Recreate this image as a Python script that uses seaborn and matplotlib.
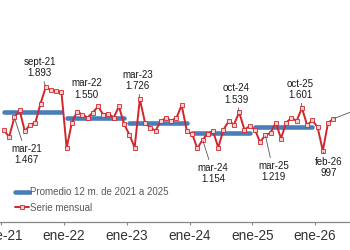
import pandas as pd
import numpy as np
import matplotlib
matplotlib.use("Agg")
import matplotlib.pyplot as plt
import seaborn as sns

# serie mensual, ene-21 a abr-26
serie_2021 = [1287, 1194, 1467, 1569, 1273, 1368, 1391, 1664, 1893, 1851, 1837, 1829]
serie_2022 = [1039, 1396, 1550, 1509, 1466, 1537, 1622, 1509, 1523, 1466, 1622, 1370]
serie_2023 = [1227, 1043, 1726, 1392, 1321, 1283, 1414, 1462, 1424, 1462, 1640, 1273]
serie_2024 = [1237, 1030, 1154, 1241, 1273, 1043, 1297, 1414, 1368, 1539, 1297, 1344]
serie_2025 = [1297, 1120, 1219, 1250, 1396, 1170, 1396, 1460, 1420, 1601, 1360, 1425]
serie_2026 = [1330, 997, 1392, 1448]

# promedio 12 meses por año
anios_prom = [2021, 2022, 2023, 2024, 2025]
promedio = [1551, 1462, 1392, 1245, 1326]

meses = ["ene", "feb", "mar", "abr", "may", "jun", "jul", "ago", "sept", "oct", "nov", "dic"]
ticks_lbl = ["ene-21", "ene-22", "ene-23", "ene-24", "ene-25", "ene-26"]

# meses anotados y desplazamiento del texto (puntos)
notas = {"mar-21": (8.6, -26.6), "sept-21": (-4.3, 14), "mar-22": (6.7, 16.3),
         "mar-23": (-1.8, 13.4), "mar-24": (7.7, -24.3), "oct-24": (-2.2, 13.2),
         "mar-25": (5.8, -26.2), "oct-25": (-1.2, 13.3), "feb-26": (4, -12)}
sin_linea = ["mar-22"]

valores = serie_2021 + serie_2022 + serie_2023 + serie_2024 + serie_2025 + serie_2026
df = pd.DataFrame({"mes": np.arange(len(valores)), "valor": valores})
df["etiqueta"] = [meses[i % 12] + "-" + str(21 + i // 12) for i in range(len(df))]

filas = []
for k, (a, p) in enumerate(zip(anios_prom, promedio)):
    filas.append({"anio": a, "mes": 12 * k, "promedio": p})
    filas.append({"anio": a, "mes": 12 * k + 11, "promedio": p})
prom = pd.DataFrame(filas)

sns.set_style("white")
plt.rcParams["font.family"] = ["Liberation Sans", "DejaVu Sans"]

azul = "#4a7ebb"
rojo = "#d0262c"

fig = plt.figure(figsize=(3.5, 2.5), dpi=100)
ax = fig.add_axes([0, 0.114, 1, 0.886])

sns.lineplot(data=prom, x="mes", y="promedio", units="anio", estimator=None,
             color=azul, lw=3.3, ax=ax, zorder=2)
sns.lineplot(data=df, x="mes", y="valor", color=rojo, lw=1.4, marker="s",
             markersize=2.5, markerfacecolor="#f7d0d0", markeredgecolor=rojo,
             markeredgewidth=0.6, ax=ax, zorder=3)

for _, r in df.iterrows():
    if r["etiqueta"] in notas:
        txt = r["etiqueta"] + "\n" + f"{r['valor']:,}".replace(",", ".")
        flecha = None if r["etiqueta"] in sin_linea else dict(arrowstyle="-", color="#555555", lw=0.6,
                                                               shrinkA=0, shrinkB=1)
        ax.annotate(txt, xy=(r["mes"], r["valor"]), xytext=notas[r["etiqueta"]],
                    textcoords="offset points", ha="center", va="center",
                    fontsize=7, color="#1a1a1a", linespacing=1.15, arrowprops=flecha)

# linea de la ultima etiqueta (fuera del recorte)
ult = df.iloc[-1]
ax.annotate("", xy=(ult["mes"], ult["valor"]), xytext=(23, 9), textcoords="offset points",
            annotation_clip=False,
            arrowprops=dict(arrowstyle="-", color="#555555", lw=0.6, shrinkA=0, shrinkB=1))

ax.set_xlim(-0.75, 66.2)
ax.set_ylim(0, 3124)
ax.set_xticks([12 * k - 0.5 for k in range(len(ticks_lbl))])
ax.set_xticklabels(ticks_lbl)
ax.set_yticks([])
ax.set_xlabel("")
ax.set_ylabel("")
ax.tick_params(axis="x", direction="out", length=2.5, width=0.8, color="#888888",
               labelsize=9.8, labelcolor="#333333", pad=3, bottom=True)
for s in ["top", "left", "right"]:
    ax.spines[s].set_visible(False)
ax.spines["bottom"].set_color("#888888")
ax.spines["bottom"].set_linewidth(0.9)

handles = [ax.lines[0], ax.lines[-1]]
ax.legend(handles, ["Promedio 12 m. de 2021 a 2025", "Serie mensual"],
          loc="upper left", bbox_to_anchor=(15 / 350, 1 - 187 / 250),
          bbox_transform=fig.transFigure, frameon=False, fontsize=7,
          labelcolor="#595959", handlelength=1.45, handletextpad=0.05,
          borderpad=0, borderaxespad=0, labelspacing=0.6, numpoints=1)

fig.savefig("out.png", dpi=100)
